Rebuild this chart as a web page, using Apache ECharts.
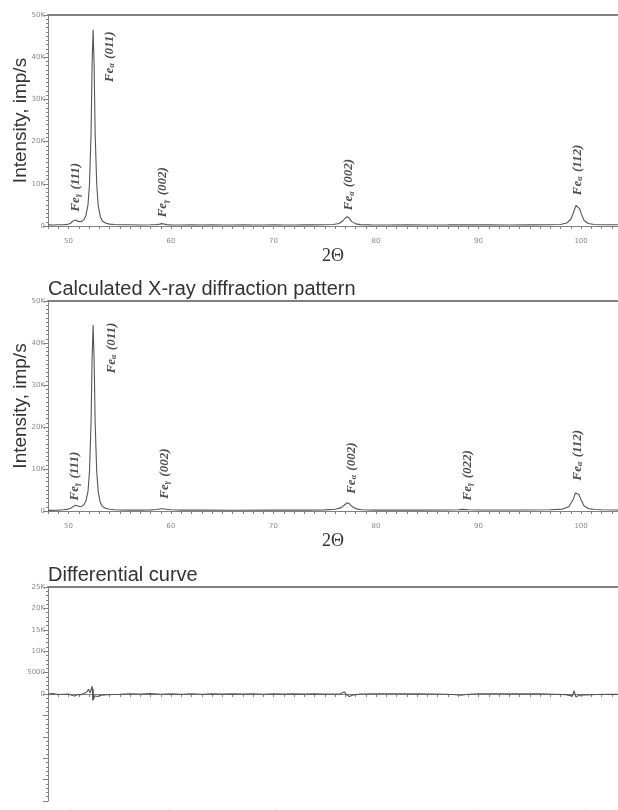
<!DOCTYPE html>
<html lang="en">
<head>
    <meta charset="UTF-8">
    <title>XRD patterns</title>
    <script src="https://cdn.jsdelivr.net/npm/echarts@6/dist/echarts.min.js"></script>
    <style>
        body { margin: 0; background: #fff; }
    </style>
</head>
<body>
<div id="main" style="width: 618px;height:810px;"></div>
<script>
    // measured pattern: [2theta, intensity]
    var measured = [
        [48.0, 260], [48.5, 240], [49.0, 280], [49.5, 300], [49.9, 380], [50.2, 650], [50.4, 1150],
        [50.55, 1450], [50.7, 1400], [50.9, 1150], [51.1, 1000], [51.3, 1100], [51.5, 1500],
        [51.7, 2500], [51.9, 5000], [52.05, 10000], [52.2, 22000], [52.3, 38000], [52.4, 46500],
        [52.5, 38000], [52.6, 22000], [52.75, 10000], [52.9, 4800], [53.1, 2200], [53.3, 1200],
        [53.6, 700], [54.0, 450], [54.5, 350], [55, 300], [56, 280], [57, 250], [58, 290],
        [58.6, 330], [58.9, 450], [59.1, 560], [59.3, 480], [59.6, 330], [60, 270], [61, 240],
        [62, 270], [63, 240], [64, 260], [65, 230], [66, 250], [67, 260], [68, 230], [69, 250],
        [70, 260], [71, 240], [72, 250], [73, 270], [74, 260], [75, 280], [75.8, 350], [76.4, 600],
        [76.8, 1300], [77.0, 1900], [77.2, 2200], [77.4, 1800], [77.6, 1100], [78.0, 500],
        [78.5, 320], [79.5, 270], [81, 250], [83, 270], [85, 240], [87, 260], [88.5, 300],
        [89.5, 260], [91, 270], [93, 250], [95, 270], [97, 280], [98.0, 350], [98.6, 700],
        [99.0, 1600], [99.3, 3500], [99.5, 4900], [99.65, 5000], [99.85, 4100], [100.05, 2700],
        [100.3, 1300], [100.7, 600], [101.3, 350], [102, 300], [103, 290], [103.6, 280]
    ];

    // calculated pattern: [2theta, intensity]
    var calculated = [
        [48.0, 150], [49.0, 200], [49.5, 280], [50.0, 450], [50.3, 750], [50.5, 1150],
        [50.7, 1350], [50.9, 1200], [51.1, 1050], [51.3, 1150], [51.5, 1500], [51.7, 2400],
        [51.9, 4600], [52.05, 9500], [52.2, 21000], [52.3, 36000], [52.4, 44300], [52.5, 36000],
        [52.6, 21000], [52.75, 9500], [52.9, 4500], [53.1, 2000], [53.3, 1100], [53.6, 650],
        [54.0, 420], [54.5, 300], [55, 250], [56, 220], [57, 220], [58, 260], [58.6, 350],
        [59.0, 520], [59.2, 550], [59.5, 420], [60, 280], [61, 220], [63, 200], [66, 190],
        [70, 200], [73, 210], [75, 260], [76, 400], [76.6, 800], [77.0, 1600], [77.2, 1950],
        [77.4, 1700], [77.7, 1000], [78.1, 500], [78.6, 300], [80, 220], [84, 210], [87, 230],
        [88.0, 300], [88.5, 380], [89.0, 300], [90, 230], [94, 230], [97, 280], [98.2, 450],
        [98.8, 1000], [99.2, 2600], [99.45, 4300], [99.6, 4600], [99.8, 3900], [100.0, 2600],
        [100.3, 1200], [100.7, 600], [101.3, 350], [102, 280], [103.6, 240]
    ];

    // differential curve: [2theta, measured - calculated]
    var differential = [
        [48.0, 0], [48.5, 80], [49.0, -100], [49.5, -50], [50.0, 0], [50.3, -300], [50.6, -450],
        [50.9, -100], [51.2, -150], [51.5, 100], [51.8, 500], [51.95, 1100], [52.1, 300],
        [52.25, 700], [52.32, 1800], [52.36, -1500], [52.4, 1200], [52.45, -1300], [52.55, -400],
        [52.8, -600], [53.2, -300], [53.8, -150], [55, -50], [56, 60], [57, 0], [58, 80],
        [59, -50], [60, 30], [61, -60], [62, 50], [63, -50], [64, 40], [65, -30], [66, 30],
        [67, -40], [68, 50], [69, -50], [70, 20], [71, -30], [72, 40], [73, -20], [74, 30],
        [75, -30], [76.5, 0], [76.9, 500], [77.1, -100], [77.4, -600], [77.8, -200], [78.5, 0],
        [80, 50], [82, 60], [84, 30], [86, 0], [87.5, -100], [88.3, -280], [89, -50], [90, 50],
        [92, 60], [94, 40], [96, 20], [97.5, -50], [98.5, -150], [99.15, -500], [99.3, 750],
        [99.5, -700], [99.8, -300], [100.5, -200], [101.5, -100], [102.5, -50], [103.6, -80]
    ];

    // peak labels: [phase, hkl, 2theta, intensity of label centre]
    var peaksMeasured = [
        ['γ', '(111)', 50.58, 9200],
        ['α', '(011)', 53.9, 40100],
        ['γ', '(002)', 59.13, 8000],
        ['α', '(002)', 77.26, 9800],
        ['α', '(112)', 99.58, 13300]
    ];
    var peaksCalculated = [
        ['γ', '(111)', 50.46, 8300],
        ['α', '(011)', 54.1, 38800],
        ['γ', '(002)', 59.3, 8900],
        ['α', '(002)', 77.5, 10200],
        ['γ', '(022)', 88.85, 8500],
        ['α', '(112)', 99.58, 13300]
    ];

    var xMin = 48, xMax = 103.6;
    var axisColor = '#808080';
    var labelColor = '#8a8a8a';

    function kFormat(v) {
        if (v < 0) return '';
        if (v >= 10000) return (v / 1000) + 'K';
        return String(v);
    }

    function bottomX(gridIndex, offset, withName) {
        return {
            type: 'value', gridIndex: gridIndex, min: xMin, max: xMax, interval: 1,
            position: 'bottom', offset: offset,
            name: withName ? '2Θ' : '', nameLocation: 'middle', nameGap: 18,
            nameTextStyle: { fontFamily: 'Liberation Serif', fontSize: 18, color: '#333' },
            axisLine: { lineStyle: { color: axisColor, width: 1 } },
            axisTick: { length: 3, lineStyle: { color: axisColor } },
            axisLabel: {
                margin: 9, fontSize: 7, color: labelColor, fontFamily: 'DejaVu Sans',
                formatter: function (v) { return v % 10 === 0 ? String(v) : ''; }
            },
            splitLine: { show: false }
        };
    }

    function topX(gridIndex) {
        return {
            type: 'value', gridIndex: gridIndex, min: xMin, max: xMax, position: 'top',
            axisLine: { lineStyle: { color: axisColor, width: 2 } },
            axisTick: { show: false }, axisLabel: { show: false }, splitLine: { show: false }
        };
    }

    function leftY(gridIndex, min, max, interval, withName) {
        return {
            type: 'value', gridIndex: gridIndex, min: min, max: max, interval: interval,
            name: withName ? 'Intensity, imp/s' : '', nameLocation: 'middle', nameGap: 18,
            nameMoveOverlap: false,
            nameTextStyle: { fontFamily: 'Liberation Sans', fontSize: 19, color: '#333' },
            axisLine: { show: true, lineStyle: { color: axisColor } },
            axisTick: { show: true, length: 5, lineStyle: { color: axisColor } },
            minorTick: { show: true, splitNumber: interval === 10000 ? 10 : 5, length: 2,
                lineStyle: { color: axisColor } },
            axisLabel: { margin: 3, fontSize: 7, color: labelColor, fontFamily: 'DejaVu Sans',
                formatter: kFormat },
            splitLine: { show: false }
        };
    }

    function labelSeries(peaks, xIdx, yIdx) {
        return {
            type: 'scatter', xAxisIndex: xIdx, yAxisIndex: yIdx, symbolSize: 1, silent: true,
            itemStyle: { color: 'rgba(0,0,0,0)' },
            data: peaks.map(function (p) { return [p[2], p[3], p[0], p[1]]; }),
            label: {
                show: true, position: 'inside', rotate: 90,
                formatter: function (p) {
                    return '{b|Fe}{s|' + p.data[2] + '}{b| ' + p.data[3] + '}';
                },
                rich: {
                    b: { fontFamily: 'Liberation Serif', fontStyle: 'italic', fontWeight: 'bold',
                        fontSize: 13, color: '#222', lineHeight: 15, verticalAlign: 'bottom' },
                    s: { fontFamily: 'Liberation Serif', fontStyle: 'italic', fontWeight: 'bold',
                        fontSize: 8, color: '#222', lineHeight: 15, verticalAlign: 'bottom',
                        padding: [0, 1, 0, 0] }
                }
            }
        };
    }

    var lineStyle = { color: '#555', width: 1.1 };
    var titleStyle = { fontFamily: 'Liberation Sans', fontSize: 20, fontWeight: 'normal', color: '#333' };

    var myChart = echarts.init(document.getElementById('main'));
    var option = {
        animation: false,
        backgroundColor: '#fff',
        title: [
            { text: 'Calculated X-ray diffraction pattern', left: 48, top: 279, padding: 0,
                textStyle: titleStyle },
            { text: 'Differential curve', left: 48, top: 565, padding: 0, textStyle: titleStyle }
        ],
        grid: [
            { left: 48, right: 0, top: 15, height: 211, outerBoundsMode: 'none' },
            { left: 48, right: 0, top: 301, height: 210, outerBoundsMode: 'none' },
            { left: 48, right: 0, top: 587, height: 214, outerBoundsMode: 'none' }
        ],
        xAxis: [
            bottomX(0, 3, true), bottomX(1, 3, true), bottomX(2, 0, false),
            topX(0), topX(1), topX(2)
        ],
        yAxis: [
            leftY(0, 0, 50000, 10000, true),
            leftY(1, 0, 50000, 10000, true),
            leftY(2, -25000, 25000, 5000, false)
        ],
        series: [
            { type: 'line', xAxisIndex: 0, yAxisIndex: 0, data: measured, showSymbol: false,
                lineStyle: lineStyle, silent: true },
            { type: 'line', xAxisIndex: 1, yAxisIndex: 1, data: calculated, showSymbol: false,
                lineStyle: lineStyle, silent: true },
            { type: 'line', xAxisIndex: 2, yAxisIndex: 2, data: differential, showSymbol: false,
                lineStyle: lineStyle, silent: true },
            labelSeries(peaksMeasured, 0, 0),
            labelSeries(peaksCalculated, 1, 1)
        ]
    };
    myChart.setOption(option);
</script>
</body>
</html>
